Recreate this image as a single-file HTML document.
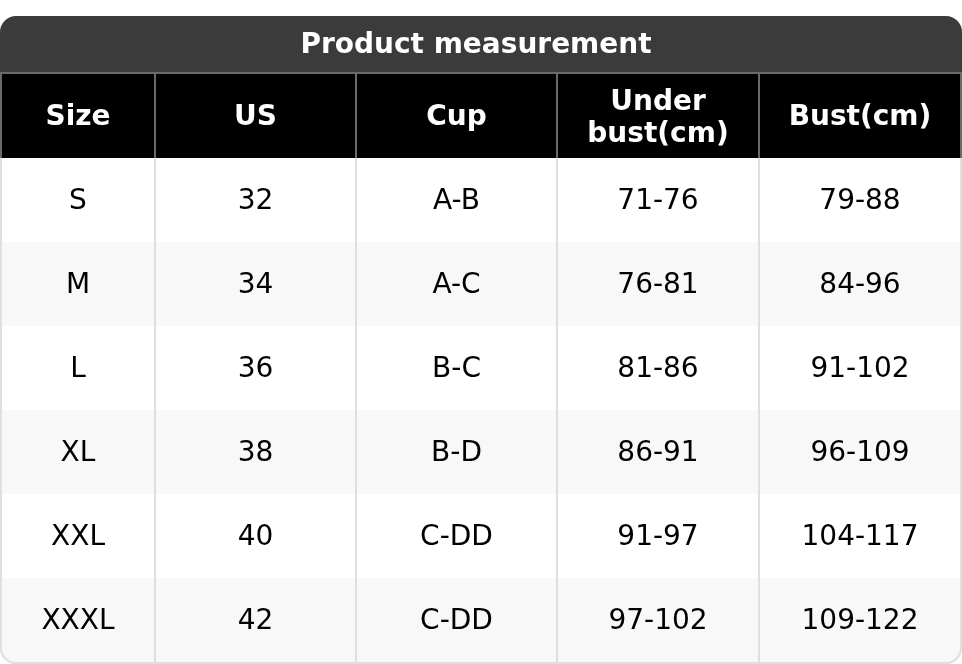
<!DOCTYPE html>
<html lang="en">
<head>
<meta charset="utf-8">
<title>Product measurement</title>
<style>
  html, body { margin: 0; padding: 0; background: #fff; }
  body { width: 962px; height: 664px; overflow: hidden; position: relative;
         font-family: "DejaVu Sans", "Liberation Sans", sans-serif; font-size: 28px; line-height: 33px; color: #000; }
  .wrap { position: absolute; left: 0; top: 16px; width: 962px; height: 648px; }
  .title { position: absolute; left: 0; top: 0; width: 962px; height: 56px; background: #3b3b3b;
           border-radius: 16px 16px 0 0; color: #fff; font-weight: bold; text-align: center;
           display: flex; align-items: center; justify-content: center; }
  .hline { position: absolute; left: 0; top: 56px; width: 962px; height: 2px; background: #6a6a6a; }
  .head { position: absolute; left: 0; top: 58px; width: 962px; height: 84px; background: #000; color: #fff; font-weight: bold; }
  .body { position: absolute; left: 0; top: 142px; width: 962px; height: 506px; box-sizing: border-box;
          border-bottom: 2px solid #dfdfdf; border-radius: 0 0 16px 16px; overflow: hidden; background: #fff; }
  .row { position: absolute; left: 0; width: 962px; height: 84px; }
  .row.alt { background: #f8f8f8; }
  .c { position: absolute; top: -1px; height: 84px; display: flex; align-items: center; justify-content: center; text-align: center; }
  .c1 { left: 2px; width: 152px; }
  .c2 { left: 156px; width: 199px; }
  .c3 { left: 357px; width: 199px; }
  .c4 { left: 558px; width: 200px; }
  .c5 { left: 760px; width: 200px; }
  .v { position: absolute; top: 0; width: 2px; height: 100%; }
  .head .v { background: #6a6a6a; }
  .body .v { background: #dfdfdf; }
  .v0 { left: 0; } .v1 { left: 154px; } .v2 { left: 355px; } .v3 { left: 556px; } .v4 { left: 758px; } .v5 { left: 960px; }
  .frame { position: absolute; left: 0; top: 142px; width: 962px; height: 506px; box-sizing: border-box;
           border: 2px solid #dfdfdf; border-top: 0; border-radius: 0 0 16px 16px; pointer-events: none; }
</style>
</head>
<body>
<div class="wrap">
  <div class="title"><span style="position:relative;left:-5px;top:-1px">Product measurement</span></div>
  <div class="hline"></div>
  <div class="head">
    <div class="c c1">Size</div>
    <div class="c c2">US</div>
    <div class="c c3">Cup</div>
    <div class="c c4" style="top:1px;line-height:32.5px">Under<br>bust(cm)</div>
    <div class="c c5">Bust(cm)</div>
    <i class="v v0"></i><i class="v v1"></i><i class="v v2"></i><i class="v v3"></i><i class="v v4"></i><i class="v v5"></i>
  </div>
  <div class="body">
    <div class="row" style="top:0">
      <div class="c c1">S</div><div class="c c2">32</div><div class="c c3">A-B</div><div class="c c4">71-76</div><div class="c c5">79-88</div>
    </div>
    <div class="row alt" style="top:84px">
      <div class="c c1">M</div><div class="c c2">34</div><div class="c c3">A-C</div><div class="c c4">76-81</div><div class="c c5">84-96</div>
    </div>
    <div class="row" style="top:168px">
      <div class="c c1">L</div><div class="c c2">36</div><div class="c c3">B-C</div><div class="c c4">81-86</div><div class="c c5">91-102</div>
    </div>
    <div class="row alt" style="top:252px">
      <div class="c c1">XL</div><div class="c c2">38</div><div class="c c3">B-D</div><div class="c c4">86-91</div><div class="c c5">96-109</div>
    </div>
    <div class="row" style="top:336px">
      <div class="c c1">XXL</div><div class="c c2">40</div><div class="c c3">C-DD</div><div class="c c4">91-97</div><div class="c c5">104-117</div>
    </div>
    <div class="row alt" style="top:420px">
      <div class="c c1">XXXL</div><div class="c c2">42</div><div class="c c3">C-DD</div><div class="c c4">97-102</div><div class="c c5">109-122</div>
    </div>
    <i class="v v1"></i><i class="v v2"></i><i class="v v3"></i><i class="v v4"></i>
  </div>
  <div class="frame"></div>
</div>
</body>
</html>
